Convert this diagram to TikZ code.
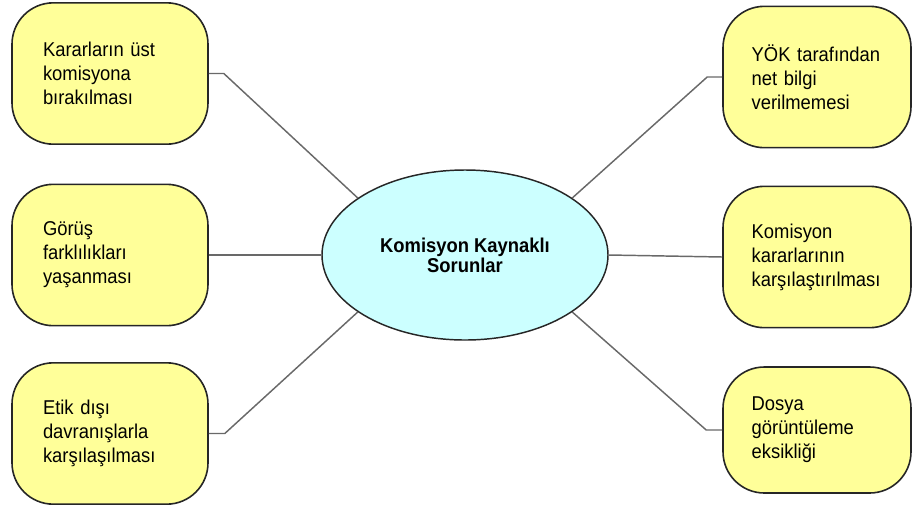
\documentclass[tikz,border=0pt]{standalone}
\usepackage{fontspec}
\setmainfont{Liberation Sans}[FakeStretch=0.92]
\usetikzlibrary{shapes.geometric}

\definecolor{kutusari}{RGB}{255,255,153}
\definecolor{merkezmavi}{RGB}{204,255,255}
\definecolor{cizgigri}{RGB}{105,105,105}

\tikzset{
    kutu/.style={draw=black!85,line width=1.2pt,fill=kutusari,rounded corners=31pt,
        minimum height=106pt,text width=100.5pt,inner xsep=23.25pt,align=left,
        font=\fontsize{15}{18}\selectfont},
    sagkutu/.style={kutu,text width=98pt,inner xsep=21.5pt},
    merkez/.style={ellipse,draw=black!85,line width=1.1pt,fill=merkezmavi,
        minimum width=214.5pt,minimum height=127.5pt,align=center,
        font=\fontsize{15}{13.5}\selectfont\bfseries},
    baglanti/.style={draw=cizgigri,line width=1.1pt}
}

\begin{document}
\begin{tikzpicture}[x=0.75pt,y=-0.75pt]
    \useasboundingbox (0,0) rectangle (913,508);

    \node[merkez] (orta) at (465,255) {Komisyon Kaynaklı\\Sorunlar};

    \node[kutu] (karar) at (110,73.5) {Kararların üst\\komisyona\\bırakılması};
    \node[kutu] (gorus) at (110,255) {Görüş\\farklılıkları\\yaşanması};
    \node[kutu] (etik) at (110,433.5) {Etik dışı\\davranışlarla\\karşılaşılması};

    \node[sagkutu] (yok) at (817,77) {YÖK tarafından\\net bilgi\\verilmemesi};
    \node[sagkutu] (kiyas) at (817,257) {Komisyon\\kararlarının\\karşılaştırılması};
    \node[sagkutu,minimum height=94.5pt] (dosya) at (817,430) {Dosya\\görüntüleme\\eksikliği};

    \draw[baglanti] (karar.east) -- ++(15,0) -- (orta.152);
    \draw[baglanti] (gorus.east) -- (orta.west);
    \draw[baglanti] (etik.east) -- ++(16,0) -- (orta.208);

    \draw[baglanti] (yok.west) -- ++(-15,0) -- (orta.28);
    \draw[baglanti] (kiyas.west) -- (orta.east);
    \draw[baglanti] (dosya.west) -- ++(-16,0) -- (orta.-28);
\end{tikzpicture}
\end{document}
